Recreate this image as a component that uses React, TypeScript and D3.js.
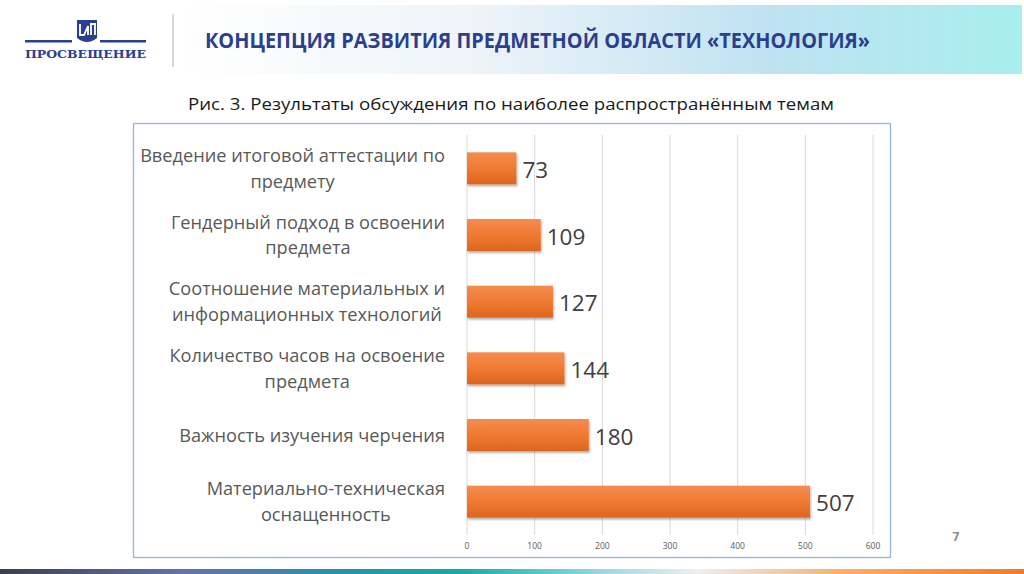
import React, { useEffect, useRef } from "react";
import * as d3 from "d3";

const categories: string[][] = [
  ["Введение итоговой аттестации по", "предмету"],
  ["Гендерный подход в освоении", "предмета"],
  ["Соотношение материальных и", "информационных технологий"],
  ["Количество часов на освоение", "предмета"],
  ["Важность изучения черчения"],
  ["Материально-техническая", "оснащенность"],
];
const values: number[] = [73, 109, 127, 144, 180, 507];
const xTicks: number[] = [0, 100, 200, 300, 400, 500, 600];

const headerTitle = "КОНЦЕПЦИЯ РАЗВИТИЯ ПРЕДМЕТНОЙ ОБЛАСТИ «ТЕХНОЛОГИЯ»";
const chartTitle = "Рис. 3. Результаты обсуждения по наиболее распространённым темам";
const pageNumber = "7";

const W = 1024;
const H = 574;
const FONT = "'Open Sans', 'Noto Sans', sans-serif";

export default function App() {
  const ref = useRef<SVGSVGElement>(null);

  useEffect(() => {
    const svg = d3.select(ref.current);
    svg.selectAll("*").remove();

    const defs = svg.append("defs");
    const hg = defs.append("linearGradient").attr("id", "hdr").attr("x1", "0").attr("x2", "1");
    hg.append("stop").attr("offset", "0").attr("stop-color", "#ffffff");
    hg.append("stop").attr("offset", "0.35").attr("stop-color", "#eef4f8");
    hg.append("stop").attr("offset", "0.7").attr("stop-color", "#bfe2f2");
    hg.append("stop").attr("offset", "1").attr("stop-color", "#a8eeee");

    const bg = defs.append("linearGradient").attr("id", "bar").attr("x1", "0").attr("x2", "0").attr("y1", "0").attr("y2", "1");
    bg.append("stop").attr("offset", "0").attr("stop-color", "#f48c4e");
    bg.append("stop").attr("offset", "0.5").attr("stop-color", "#f07a32");
    bg.append("stop").attr("offset", "1").attr("stop-color", "#dc661f");

    const sg = defs.append("linearGradient").attr("id", "stripe").attr("x1", "0").attr("x2", "1");
    [
      [0, "#3b3f4c"],
      [0.18, "#6274b0"],
      [0.34, "#2a8fb0"],
      [0.45, "#16a9ad"],
      [0.58, "#8fd6e2"],
      [0.68, "#eef0f0"],
      [0.82, "#f6b070"],
      [1, "#f07a2c"],
    ].forEach(([o, c]) => sg.append("stop").attr("offset", o as number).attr("stop-color", c as string));

    const sh = defs.append("filter").attr("id", "shadow").attr("x", "-5%").attr("y", "-20%").attr("width", "110%").attr("height", "150%");
    sh.append("feDropShadow").attr("dx", 1).attr("dy", 2).attr("stdDeviation", 1.2).attr("flood-color", "#000").attr("flood-opacity", 0.3);

    // Header band
    svg.append("rect").attr("x", 180).attr("y", 5).attr("width", 842).attr("height", 69).attr("fill", "url(#hdr)");
    svg.append("text")
      .attr("x", 205).attr("y", 48)
      .attr("font-family", FONT).attr("font-weight", 700).attr("font-size", 21)
      .attr("fill", "#2b3f8e")
      .attr("textLength", 665).attr("lengthAdjust", "spacingAndGlyphs")
      .text(headerTitle);

    // Logo
    const blue = "#2c3e8e";
    svg.append("rect").attr("x", 25).attr("y", 40).attr("width", 47).attr("height", 2.5).attr("fill", blue);
    svg.append("rect").attr("x", 100).attr("y", 40).attr("width", 46).attr("height", 2.5).attr("fill", blue);
    svg.append("path").attr("d", "M77,20 L97,20 L97,38 Q87,46 77,38 Z").attr("fill", blue);
    svg.append("path").attr("d", "M80,24 L80,35 L84,35 L88,26 L88,35 M90,24 L95,24 L95,35 M91,24 L91,35")
      .attr("stroke", "#fff").attr("stroke-width", 1.8).attr("fill", "none");
    svg.append("text")
      .attr("x", 25).attr("y", 58)
      .attr("font-family", "'DejaVu Serif', 'Liberation Serif', serif").attr("font-weight", 700).attr("font-size", 11.5)
      .attr("fill", blue)
      .attr("textLength", 121).attr("lengthAdjust", "spacingAndGlyphs")
      .text("ПРОСВЕЩЕНИЕ");
    svg.append("line").attr("x1", 173).attr("x2", 173).attr("y1", 14).attr("y2", 67).attr("stroke", "#c8ccd4").attr("stroke-width", 1.5);

    // Chart title
    svg.append("text")
      .attr("x", 511).attr("y", 110)
      .attr("text-anchor", "middle")
      .attr("font-family", FONT).attr("font-size", 17).attr("fill", "#1a1a1a")
      .attr("textLength", 646).attr("lengthAdjust", "spacingAndGlyphs")
      .text(chartTitle);

    // Frame
    svg.append("rect").attr("x", 133.5).attr("y", 123.5).attr("width", 757).attr("height", 434)
      .attr("fill", "#fff").attr("stroke", "#93b6de").attr("stroke-width", 1.3);

    const x = d3.scaleLinear().domain([0, 600]).range([467, 873]);
    const y = d3.scaleBand<number>().domain(d3.range(values.length)).range([135, 535]).paddingInner(0.52).paddingOuter(0.26);

    // Grid
    svg.append("g").selectAll("line").data(xTicks).join("line")
      .attr("x1", (d) => x(d)).attr("x2", (d) => x(d))
      .attr("y1", 135).attr("y2", 535)
      .attr("stroke", "#d9d9d9").attr("stroke-width", 1);

    svg.append("g").selectAll("text").data(xTicks).join("text")
      .attr("x", (d) => x(d)).attr("y", 549)
      .attr("text-anchor", "middle")
      .attr("font-family", FONT).attr("font-size", 8.5).attr("fill", "#595959")
      .text((d) => String(d));

    // Bars
    svg.append("g").selectAll("rect").data(values).join("rect")
      .attr("x", x(0))
      .attr("y", (_, i) => y(i)!)
      .attr("width", (d) => x(d) - x(0))
      .attr("height", y.bandwidth())
      .attr("fill", "url(#bar)")
      .attr("filter", "url(#shadow)");

    // Value labels
    svg.append("g").selectAll("text").data(values).join("text")
      .attr("x", (d) => x(d) + 6)
      .attr("y", (_, i) => y(i)! + y.bandwidth() / 2 + 9.5)
      .attr("font-family", FONT).attr("font-size", 22.5).attr("fill", "#404040")
      .text((d) => String(d));

    // Category labels
    const labelRight = 445;
    const lineH = 25.5;
    categories.forEach((lines, i) => {
      const cy = y(i)! + y.bandwidth() / 2;
      const g = svg.append("g");
      const texts = lines.map((l) =>
        g.append("text")
          .attr("font-family", FONT).attr("font-size", 18.2).attr("fill", "#595959")
          .attr("text-anchor", "middle")
          .text(l)
      );
      const widths = texts.map((t) => (t.node() as SVGTextElement).getComputedTextLength());
      const maxW = Math.max(...widths);
      const cx = labelRight - maxW / 2;
      const n = lines.length;
      texts.forEach((t, k) => {
        t.attr("x", cx).attr("y", cy + (k - (n - 1) / 2) * lineH + 6.5);
      });
    });

    // Page number
    svg.append("text").attr("x", 956).attr("y", 541).attr("text-anchor", "middle")
      .attr("font-family", FONT).attr("font-weight", 700).attr("font-size", 12).attr("fill", "#8a8a8a")
      .text(pageNumber);

    // Bottom stripe
    svg.append("rect").attr("x", 0).attr("y", 569).attr("width", W).attr("height", 5).attr("fill", "url(#stripe)");
  }, []);

  return (
    <svg ref={ref} width={W} height={H} style={{ position: "absolute", left: 0, top: 0, background: "#fff" }} />
  );
}
